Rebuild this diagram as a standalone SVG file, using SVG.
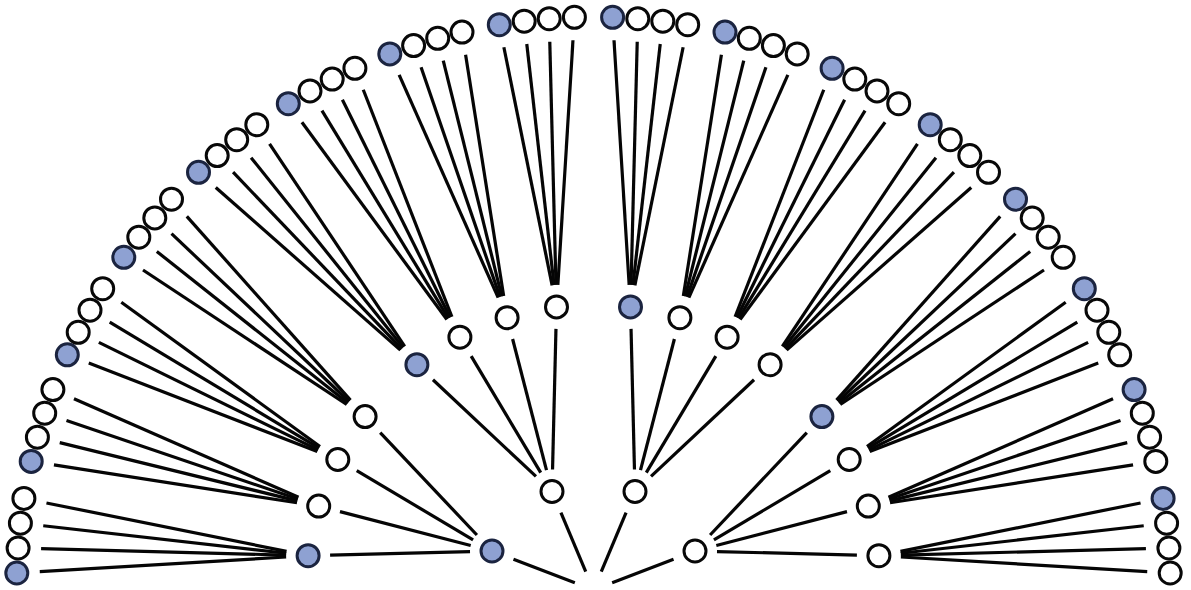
<svg xmlns="http://www.w3.org/2000/svg" width="1191" height="590" viewBox="0 0 1191 590">
<style>
.e{stroke:#050505;stroke-width:3.2;stroke-linecap:butt;fill:none}
.w{fill:#fff;stroke:#080808;stroke-width:3}
.b{fill:#8ea1d2;stroke:#1b2440;stroke-width:3}
</style>
<rect width="1191" height="590" fill="#fff"/>
<g id="connectors" class="e">
<line x1="39.76" y1="571.64" x2="286.14" y2="557.0"/>
<line x1="41.09" y1="548.61" x2="286.11" y2="555.12"/>
<line x1="43.25" y1="525.78" x2="286.24" y2="553.23"/>
<line x1="46.45" y1="502.95" x2="286.53" y2="551.35"/>
<line x1="53.93" y1="464.93" x2="296.96" y2="502.72"/>
<line x1="59.74" y1="442.67" x2="297.33" y2="500.87"/>
<line x1="66.48" y1="420.59" x2="297.86" y2="499.04"/>
<line x1="73.97" y1="398.83" x2="298.55" y2="497.27"/>
<line x1="88.75" y1="363.10" x2="317.28" y2="451.56"/>
<line x1="98.85" y1="342.42" x2="318.04" y2="449.82"/>
<line x1="109.70" y1="322.07" x2="318.96" y2="448.15"/>
<line x1="121.31" y1="302.22" x2="320.0" y2="446.57"/>
<line x1="142.99" y1="269.97" x2="346.74" y2="404.48"/>
<line x1="156.82" y1="251.49" x2="347.86" y2="402.93"/>
<line x1="171.52" y1="233.70" x2="349.11" y2="401.49"/>
<line x1="186.80" y1="216.38" x2="350.47" y2="400.17"/>
<line x1="215.76" y1="187.50" x2="400.39" y2="350.16"/>
<line x1="233.09" y1="172.23" x2="401.71" y2="348.79"/>
<line x1="251.08" y1="157.65" x2="403.15" y2="347.53"/>
<line x1="269.56" y1="143.83" x2="404.69" y2="346.40"/>
<line x1="301.92" y1="122.23" x2="446.87" y2="319.47"/>
<line x1="321.96" y1="110.55" x2="448.46" y2="318.41"/>
<line x1="342.40" y1="99.71" x2="450.14" y2="317.48"/>
<line x1="363.27" y1="89.72" x2="451.90" y2="316.71"/>
<line x1="399.14" y1="74.92" x2="498.16" y2="297.60"/>
<line x1="421.07" y1="67.35" x2="499.95" y2="296.89"/>
<line x1="443.24" y1="60.62" x2="501.80" y2="296.35"/>
<line x1="465.59" y1="54.82" x2="503.67" y2="295.97"/>
<line x1="503.87" y1="47.24" x2="552.13" y2="285.34"/>
<line x1="526.78" y1="44.05" x2="554.03" y2="285.04"/>
<line x1="549.78" y1="41.69" x2="555.94" y2="284.91"/>
<line x1="572.98" y1="40.26" x2="557.86" y2="284.94"/>
<line x1="614.02" y1="40.26" x2="629.14" y2="284.94"/>
<line x1="637.22" y1="41.69" x2="631.06" y2="284.91"/>
<line x1="660.22" y1="44.05" x2="632.97" y2="285.04"/>
<line x1="683.13" y1="47.24" x2="634.87" y2="285.34"/>
<line x1="721.41" y1="54.82" x2="683.33" y2="295.97"/>
<line x1="743.76" y1="60.62" x2="685.20" y2="296.35"/>
<line x1="765.93" y1="67.35" x2="687.05" y2="296.89"/>
<line x1="787.86" y1="74.92" x2="688.84" y2="297.60"/>
<line x1="823.73" y1="89.72" x2="735.10" y2="316.71"/>
<line x1="844.60" y1="99.71" x2="736.86" y2="317.48"/>
<line x1="865.04" y1="110.55" x2="738.54" y2="318.41"/>
<line x1="885.08" y1="122.23" x2="740.13" y2="319.47"/>
<line x1="917.44" y1="143.83" x2="782.31" y2="346.40"/>
<line x1="935.92" y1="157.65" x2="783.85" y2="347.53"/>
<line x1="953.91" y1="172.23" x2="785.29" y2="348.79"/>
<line x1="971.24" y1="187.50" x2="786.61" y2="350.16"/>
<line x1="1000.20" y1="216.38" x2="836.53" y2="400.17"/>
<line x1="1015.48" y1="233.70" x2="837.89" y2="401.49"/>
<line x1="1030.18" y1="251.49" x2="839.14" y2="402.93"/>
<line x1="1044.01" y1="269.97" x2="840.26" y2="404.48"/>
<line x1="1065.69" y1="302.22" x2="867.0" y2="446.57"/>
<line x1="1077.30" y1="322.07" x2="868.04" y2="448.15"/>
<line x1="1088.15" y1="342.42" x2="868.96" y2="449.82"/>
<line x1="1098.25" y1="363.10" x2="869.72" y2="451.56"/>
<line x1="1113.03" y1="398.83" x2="888.45" y2="497.27"/>
<line x1="1120.52" y1="420.59" x2="889.14" y2="499.04"/>
<line x1="1127.26" y1="442.67" x2="889.67" y2="500.87"/>
<line x1="1133.07" y1="464.93" x2="890.04" y2="502.72"/>
<line x1="1140.55" y1="502.95" x2="900.47" y2="551.35"/>
<line x1="1143.75" y1="525.78" x2="900.76" y2="553.23"/>
<line x1="1145.91" y1="548.61" x2="900.89" y2="555.12"/>
<line x1="1147.24" y1="571.64" x2="900.86" y2="557.0"/>
<line x1="330.09" y1="555.14" x2="470.01" y2="551.56"/>
<line x1="340.0" y1="511.62" x2="470.70" y2="545.48"/>
<line x1="356.72" y1="470.73" x2="473.08" y2="539.77"/>
<line x1="380.20" y1="432.60" x2="476.90" y2="535.0"/>
<line x1="432.94" y1="379.76" x2="535.96" y2="476.44"/>
<line x1="471.18" y1="356.09" x2="540.72" y2="472.61"/>
<line x1="512.60" y1="339.0" x2="546.50" y2="470.20"/>
<line x1="555.96" y1="328.89" x2="552.54" y2="469.51"/>
<line x1="631.04" y1="328.89" x2="634.46" y2="469.51"/>
<line x1="674.40" y1="339.0" x2="640.50" y2="470.20"/>
<line x1="715.82" y1="356.09" x2="646.28" y2="472.61"/>
<line x1="754.06" y1="379.76" x2="651.04" y2="476.44"/>
<line x1="806.80" y1="432.60" x2="710.10" y2="535.0"/>
<line x1="830.28" y1="470.73" x2="713.92" y2="539.77"/>
<line x1="847.0" y1="511.62" x2="716.30" y2="545.48"/>
<line x1="856.91" y1="555.14" x2="716.99" y2="551.56"/>
<line x1="513.47" y1="559.25" x2="574.83" y2="582.83"/>
<line x1="560.93" y1="512.69" x2="585.73" y2="571.57"/>
<line x1="626.07" y1="512.69" x2="601.27" y2="571.57"/>
<line x1="673.53" y1="559.25" x2="612.17" y2="582.83"/>
</g>
<g id="level1">
<g id="n1-1"><circle class="b" cx="492" cy="551" r="11"/></g>
<g id="n1-2"><circle class="w" cx="552" cy="491.5" r="11"/></g>
<g id="n1-3"><circle class="w" cx="635" cy="491.5" r="11"/></g>
<g id="n1-4"><circle class="w" cx="695" cy="551" r="11"/></g>
</g>
<g id="level2">
<g id="n2-1"><circle class="b" cx="308.1" cy="555.7" r="11"/></g>
<g id="n2-2"><circle class="w" cx="318.7" cy="506.1" r="11"/></g>
<g id="n2-3"><circle class="w" cx="337.8" cy="459.5" r="11"/></g>
<g id="n2-4"><circle class="w" cx="365.1" cy="416.6" r="11"/></g>
<g id="n2-5"><circle class="b" cx="416.9" cy="364.7" r="11"/></g>
<g id="n2-6"><circle class="w" cx="459.9" cy="337.2" r="11"/></g>
<g id="n2-7"><circle class="w" cx="507.1" cy="317.7" r="11"/></g>
<g id="n2-8"><circle class="w" cx="556.5" cy="306.9" r="11"/></g>
<g id="n2-9"><circle class="b" cx="630.5" cy="306.9" r="11"/></g>
<g id="n2-10"><circle class="w" cx="679.9" cy="317.7" r="11"/></g>
<g id="n2-11"><circle class="w" cx="727.1" cy="337.2" r="11"/></g>
<g id="n2-12"><circle class="w" cx="770.1" cy="364.7" r="11"/></g>
<g id="n2-13"><circle class="b" cx="821.9" cy="416.6" r="11"/></g>
<g id="n2-14"><circle class="w" cx="849.2" cy="459.5" r="11"/></g>
<g id="n2-15"><circle class="w" cx="868.3" cy="506.1" r="11"/></g>
<g id="n2-16"><circle class="w" cx="878.9" cy="555.7" r="11"/></g>
</g>
<g id="leaves">
<g id="leaf-1"><circle class="b" cx="16.8" cy="573.0" r="11"/></g>
<g id="leaf-2"><circle class="w" cx="18.1" cy="548.0" r="11"/></g>
<g id="leaf-3"><circle class="w" cx="20.4" cy="523.2" r="11"/></g>
<g id="leaf-4"><circle class="w" cx="23.9" cy="498.4" r="11"/></g>
<g id="leaf-5"><circle class="b" cx="31.2" cy="461.4" r="11"/></g>
<g id="leaf-6"><circle class="w" cx="37.4" cy="437.2" r="11"/></g>
<g id="leaf-7"><circle class="w" cx="44.7" cy="413.2" r="11"/></g>
<g id="leaf-8"><circle class="w" cx="52.9" cy="389.6" r="11"/></g>
<g id="leaf-9"><circle class="b" cx="67.3" cy="354.8" r="11"/></g>
<g id="leaf-10"><circle class="w" cx="78.2" cy="332.3" r="11"/></g>
<g id="leaf-11"><circle class="w" cx="90.0" cy="310.2" r="11"/></g>
<g id="leaf-12"><circle class="w" cx="102.7" cy="288.7" r="11"/></g>
<g id="leaf-13"><circle class="b" cx="123.8" cy="257.3" r="11"/></g>
<g id="leaf-14"><circle class="w" cx="138.8" cy="237.2" r="11"/></g>
<g id="leaf-15"><circle class="w" cx="154.8" cy="217.9" r="11"/></g>
<g id="leaf-16"><circle class="w" cx="171.5" cy="199.2" r="11"/></g>
<g id="leaf-17"><circle class="b" cx="198.5" cy="172.3" r="11"/></g>
<g id="leaf-18"><circle class="w" cx="217.2" cy="155.6" r="11"/></g>
<g id="leaf-19"><circle class="w" cx="236.7" cy="139.7" r="11"/></g>
<g id="leaf-20"><circle class="w" cx="256.8" cy="124.7" r="11"/></g>
<g id="leaf-21"><circle class="b" cx="288.3" cy="103.7" r="11"/></g>
<g id="leaf-22"><circle class="w" cx="310.0" cy="90.9" r="11"/></g>
<g id="leaf-23"><circle class="w" cx="332.2" cy="79.1" r="11"/></g>
<g id="leaf-24"><circle class="w" cx="354.9" cy="68.3" r="11"/></g>
<g id="leaf-25"><circle class="b" cx="389.8" cy="53.9" r="11"/></g>
<g id="leaf-26"><circle class="w" cx="413.6" cy="45.6" r="11"/></g>
<g id="leaf-27"><circle class="w" cx="437.7" cy="38.3" r="11"/></g>
<g id="leaf-28"><circle class="w" cx="462.0" cy="32.1" r="11"/></g>
<g id="leaf-29"><circle class="b" cx="499.3" cy="24.7" r="11"/></g>
<g id="leaf-30"><circle class="w" cx="524.2" cy="21.2" r="11"/></g>
<g id="leaf-31"><circle class="w" cx="549.2" cy="18.7" r="11"/></g>
<g id="leaf-32"><circle class="w" cx="574.4" cy="17.3" r="11"/></g>
<g id="leaf-33"><circle class="b" cx="612.6" cy="17.3" r="11"/></g>
<g id="leaf-34"><circle class="w" cx="637.8" cy="18.7" r="11"/></g>
<g id="leaf-35"><circle class="w" cx="662.8" cy="21.2" r="11"/></g>
<g id="leaf-36"><circle class="w" cx="687.7" cy="24.7" r="11"/></g>
<g id="leaf-37"><circle class="b" cx="725.0" cy="32.1" r="11"/></g>
<g id="leaf-38"><circle class="w" cx="749.3" cy="38.3" r="11"/></g>
<g id="leaf-39"><circle class="w" cx="773.4" cy="45.6" r="11"/></g>
<g id="leaf-40"><circle class="w" cx="797.2" cy="53.9" r="11"/></g>
<g id="leaf-41"><circle class="b" cx="832.1" cy="68.3" r="11"/></g>
<g id="leaf-42"><circle class="w" cx="854.8" cy="79.1" r="11"/></g>
<g id="leaf-43"><circle class="w" cx="877.0" cy="90.9" r="11"/></g>
<g id="leaf-44"><circle class="w" cx="898.7" cy="103.7" r="11"/></g>
<g id="leaf-45"><circle class="b" cx="930.2" cy="124.7" r="11"/></g>
<g id="leaf-46"><circle class="w" cx="950.3" cy="139.7" r="11"/></g>
<g id="leaf-47"><circle class="w" cx="969.8" cy="155.6" r="11"/></g>
<g id="leaf-48"><circle class="w" cx="988.5" cy="172.3" r="11"/></g>
<g id="leaf-49"><circle class="b" cx="1015.5" cy="199.2" r="11"/></g>
<g id="leaf-50"><circle class="w" cx="1032.2" cy="217.9" r="11"/></g>
<g id="leaf-51"><circle class="w" cx="1048.2" cy="237.2" r="11"/></g>
<g id="leaf-52"><circle class="w" cx="1063.2" cy="257.3" r="11"/></g>
<g id="leaf-53"><circle class="b" cx="1084.3" cy="288.7" r="11"/></g>
<g id="leaf-54"><circle class="w" cx="1097.0" cy="310.2" r="11"/></g>
<g id="leaf-55"><circle class="w" cx="1108.8" cy="332.3" r="11"/></g>
<g id="leaf-56"><circle class="w" cx="1119.7" cy="354.8" r="11"/></g>
<g id="leaf-57"><circle class="b" cx="1134.1" cy="389.6" r="11"/></g>
<g id="leaf-58"><circle class="w" cx="1142.3" cy="413.2" r="11"/></g>
<g id="leaf-59"><circle class="w" cx="1149.6" cy="437.2" r="11"/></g>
<g id="leaf-60"><circle class="w" cx="1155.8" cy="461.4" r="11"/></g>
<g id="leaf-61"><circle class="b" cx="1163.1" cy="498.4" r="11"/></g>
<g id="leaf-62"><circle class="w" cx="1166.6" cy="523.2" r="11"/></g>
<g id="leaf-63"><circle class="w" cx="1168.9" cy="548.0" r="11"/></g>
<g id="leaf-64"><circle class="w" cx="1170.2" cy="573.0" r="11"/></g>
</g>
</svg>
